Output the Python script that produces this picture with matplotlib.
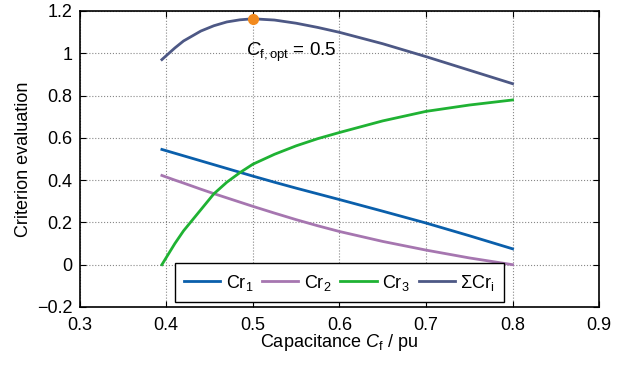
import numpy as np
import matplotlib
matplotlib.use('Agg')
import matplotlib.pyplot as plt

plt.rcParams['font.family'] = ['Liberation Sans', 'DejaVu Sans']
plt.rcParams['mathtext.fontset'] = 'custom'
plt.rcParams['mathtext.rm'] = 'Liberation Sans'
plt.rcParams['mathtext.it'] = 'Liberation Sans:italic'

# capacitance values (pu)
cf = [0.395, 0.41, 0.42, 0.44, 0.455, 0.47, 0.485, 0.5, 0.525, 0.55, 0.575,
      0.6, 0.65, 0.7, 0.75, 0.8]
cr1 = [0.545, 0.527, 0.515, 0.491, 0.473, 0.455, 0.437, 0.419, 0.39, 0.362, 0.335,
       0.308, 0.253, 0.197, 0.137, 0.075]
cr2 = [0.422, 0.4, 0.386, 0.357, 0.336, 0.316, 0.296, 0.276, 0.244, 0.213, 0.184,
       0.157, 0.11, 0.069, 0.032, 0.0]
cr3 = [0.0, 0.1, 0.16, 0.26, 0.335, 0.39, 0.435, 0.475, 0.522, 0.562, 0.596,
       0.625, 0.68, 0.725, 0.755, 0.779]
cr_sum = [0.97, 1.025, 1.058, 1.105, 1.13, 1.148, 1.158, 1.163, 1.157, 1.142, 1.122,
          1.099, 1.045, 0.984, 0.92, 0.856]
cf_opt = 0.5
sum_opt = 1.163

xticks = [0.3, 0.4, 0.5, 0.6, 0.7, 0.8, 0.9]
yticks = [-0.2, 0, 0.2, 0.4, 0.6, 0.8, 1.0, 1.2]
ylabels = ['\u22120.2', '0', '0.2', '0.4', '0.6', '0.8', '1', '1.2']

fs = 13

fig = plt.figure(figsize=(6.32, 3.65), dpi=100)
ax = fig.add_axes([0.126, 0.159, 0.822, 0.811])

ax.plot(cf, cr1, color='#0a5fab', lw=2, label=r'Cr$_1$')
ax.plot(cf, cr2, color='#a676b0', lw=2, label=r'Cr$_2$')
ax.plot(cf, cr3, color='#1fb233', lw=2, label=r'Cr$_3$')
ax.plot(cf, cr_sum, color='#4d5885', lw=2, label=r'$\Sigma$Cr$_\mathregular{i}$')
ax.plot(cf_opt, sum_opt, 'o', color='#f28a1e', ms=7, zorder=5)

ax.text(0.492, 1.005, r'$C_\mathregular{f,opt}$ = 0.5', fontsize=fs + 0.5, va='center')

ax.set_xlim(0.3, 0.9)
ax.set_ylim(-0.2, 1.2)
ax.set_xticks(xticks)
ax.set_xticklabels(['%g' % t for t in xticks])
ax.set_yticks(yticks)
ax.set_yticklabels(ylabels)
ax.tick_params(direction='in', top=True, right=True, labelsize=fs, length=4)
ax.tick_params(axis='x', pad=7)
ax.tick_params(axis='y', pad=5)
ax.grid(True, linestyle=':', color='#888888', lw=0.8)
for s in ax.spines.values():
    s.set_linewidth(1.2)

ax.set_xlabel(r'Capacitance $C_\mathregular{f}$ / pu', fontsize=fs, labelpad=-1)
ax.set_ylabel('Criterion evaluation', fontsize=fs, labelpad=4)

leg = ax.legend(loc='lower center', ncol=4, fontsize=fs, fancybox=False,
                edgecolor='black', framealpha=1, borderaxespad=0.3,
                handlelength=2.0, columnspacing=0.5, handletextpad=0.3,
                borderpad=0.5)
leg.get_frame().set_linewidth(1.0)

fig.savefig('out.png', dpi=100)
